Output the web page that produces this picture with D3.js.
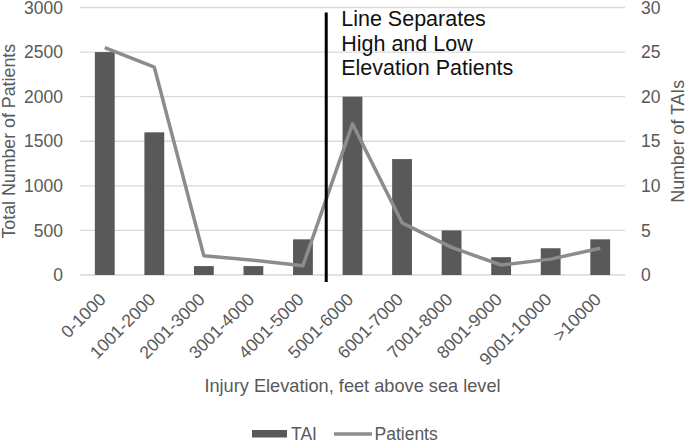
<!DOCTYPE html>
<html lang="en">
<head>
    <meta charset="UTF-8">
    <title>TAI and Patients by Injury Elevation</title>
    <style>
        body {
            margin: 0;
            padding: 0;
            background-color: white;
            font-family: Arial, "Liberation Sans", sans-serif;
        }
        svg text {
            fill: #595959;
        }
    </style>
</head>
<body>
    <svg id="chart" width="685" height="441"></svg>

    <script src="https://d3js.org/d3.v7.min.js"></script>
    <script>
        // Chart data
        const categories = ['0-1000', '1001-2000', '2001-3000', '3001-4000', '4001-5000', '5001-6000',
            '6001-7000', '7001-8000', '8001-9000', '9001-10000', '>10000'];
        const taiValues = [25, 16, 1, 1, 4, 20, 13, 5, 2, 3, 4];
        const patientValues = [2550, 2330, 215, 165, 105, 1695, 585, 310, 112, 178, 300];
        const leftTicks = [0, 500, 1000, 1500, 2000, 2500, 3000];
        const rightTicks = [0, 5, 10, 15, 20, 25, 30];
        const noteLines = ['Line Separates', 'High and Low', 'Elevation Patients'];

        const svg = d3.select('#chart');
        const margin = { left: 80, right: 60, top: 7.5, bottom: 166 };
        const width = 685 - margin.left - margin.right;
        const height = 441 - margin.top - margin.bottom;

        const g = svg.append('g').attr('transform', `translate(${margin.left},${margin.top})`);

        const x = d3.scaleBand().domain(categories).range([0, width]).paddingInner(0.6).paddingOuter(0.3);
        const yLeft = d3.scaleLinear().domain([0, 3000]).range([height, 0]);
        const yRight = d3.scaleLinear().domain([0, 30]).range([height, 0]);

        // gridlines
        g.append('g')
            .selectAll('line')
            .data(leftTicks)
            .enter()
            .append('line')
            .attr('x1', 0)
            .attr('x2', width)
            .attr('y1', d => yLeft(d))
            .attr('y2', d => yLeft(d))
            .attr('stroke', '#d9d9d9')
            .attr('stroke-width', 1.3);

        // left axis labels
        const leftAxis = g.append('g')
            .call(d3.axisLeft(yLeft).tickValues(leftTicks).tickFormat(d3.format('d')).tickSize(0).tickPadding(17));
        leftAxis.select('.domain').remove();
        leftAxis.selectAll('text').attr('font-size', 17.5).attr('fill', '#595959').attr('font-family', 'Arial, "Liberation Sans", sans-serif');

        // right axis labels
        const rightAxis = g.append('g')
            .attr('transform', `translate(${width},0)`)
            .call(d3.axisRight(yRight).tickValues(rightTicks).tickFormat(d3.format('d')).tickSize(0).tickPadding(16));
        rightAxis.select('.domain').remove();
        rightAxis.selectAll('text').attr('font-size', 17.5).attr('fill', '#595959').attr('font-family', 'Arial, "Liberation Sans", sans-serif');

        // bars (TAI, right axis)
        g.append('g')
            .selectAll('rect')
            .data(categories)
            .enter()
            .append('rect')
            .attr('x', d => x(d))
            .attr('width', x.bandwidth())
            .attr('y', (d, i) => yRight(taiValues[i]))
            .attr('height', (d, i) => height - yRight(taiValues[i]))
            .attr('fill', '#595959');

        // line (Patients, left axis)
        const line = d3.line()
            .x((d, i) => x(categories[i]) + x.bandwidth() / 2)
            .y(d => yLeft(d));

        g.append('path')
            .datum(patientValues)
            .attr('d', line)
            .attr('fill', 'none')
            .attr('stroke', '#8c8c8c')
            .attr('stroke-width', 3.5)
            .attr('stroke-linejoin', 'round');

        // separator between low and high elevation
        const sepX = x(categories[5]) - x.step() * x.paddingInner() / 2 - 1.5;
        g.append('line')
            .attr('x1', sepX)
            .attr('x2', sepX)
            .attr('y1', 5)
            .attr('y2', height + 7)
            .attr('stroke', '#000')
            .attr('stroke-width', 3);

        const note = g.append('text')
            .attr('x', sepX + 15)
            .attr('y', 18.5)
            .attr('font-size', 21.5)
            .style('fill', '#111');
        note.selectAll('tspan')
            .data(noteLines)
            .enter()
            .append('tspan')
            .attr('x', sepX + 15)
            .attr('dy', (d, i) => i === 0 ? 0 : 24.5)
            .text(d => d);

        // x tick labels, rotated
        g.append('g')
            .selectAll('text')
            .data(categories)
            .enter()
            .append('text')
            .attr('text-anchor', 'end')
            .attr('font-size', 17.5)
            .attr('transform', d => `translate(${x(d) + x.bandwidth() / 2 + 2},${height + 25.5}) rotate(-45)`)
            .text(d => d);

        // axis titles
        svg.append('text')
            .attr('transform', `translate(15,${margin.top + height / 2}) rotate(-90)`)
            .attr('text-anchor', 'middle')
            .attr('font-size', 17.8)
            .text('Total Number of Patients');

        svg.append('text')
            .attr('transform', `translate(683.5,${margin.top + height / 2}) rotate(-90)`)
            .attr('text-anchor', 'middle')
            .attr('font-size', 17.8)
            .text('Number of TAIs');

        svg.append('text')
            .attr('x', margin.left + width / 2)
            .attr('y', 392)
            .attr('text-anchor', 'middle')
            .attr('font-size', 18.2)
            .text('Injury Elevation, feet above sea level');

        // legend
        const legend = svg.append('g');
        legend.append('rect')
            .attr('x', 252).attr('y', 430).attr('width', 35).attr('height', 7.5)
            .attr('fill', '#595959');
        legend.append('text')
            .attr('x', 291).attr('y', 440).attr('font-size', 17.5)
            .text('TAI');
        legend.append('line')
            .attr('x1', 334).attr('x2', 372).attr('y1', 434).attr('y2', 434)
            .attr('stroke', '#8c8c8c').attr('stroke-width', 3.5);
        legend.append('text')
            .attr('x', 374.5).attr('y', 440).attr('font-size', 17.5)
            .text('Patients');
    </script>
</body>
</html>
